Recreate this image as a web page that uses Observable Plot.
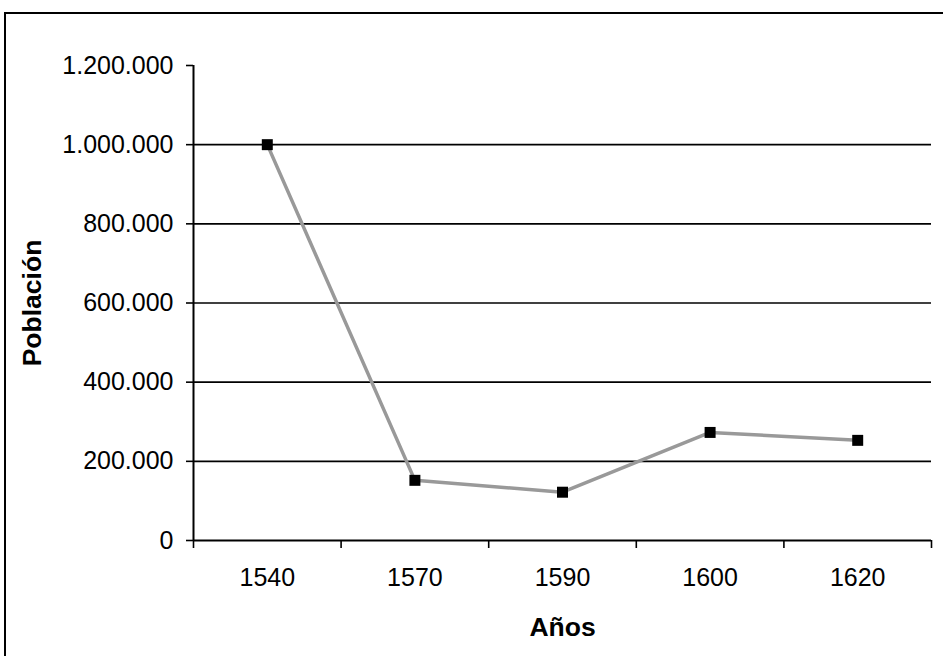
<!DOCTYPE html>
<html>
<head>
<meta charset="utf-8">
<script src="https://cdn.jsdelivr.net/npm/d3@7"></script>
<script src="https://cdn.jsdelivr.net/npm/@observablehq/plot@0.6"></script>
<style>
  html, body { margin: 0; padding: 0; background: #fff; overflow: hidden; }
  #wrap { position: relative; width: 943px; height: 656px; overflow: hidden; }
  #frame { position: absolute; left: 4px; top: 12px; width: 1000px; height: 700px; border: 2.5px solid #000; pointer-events: none; }
  #chart { position: absolute; left: 0; top: 0; }
</style>
</head>
<body>
<div id="wrap"><div id="chart"></div><div id="frame"></div></div>
<script>
const years = ["1540", "1570", "1590", "1600", "1620"];
const population = [1000000, 152000, 122000, 273000, 253000];
const yTicks = [0, 200000, 400000, 600000, 800000, 1000000, 1200000];
const gridValues = [200000, 400000, 600000, 800000, 1000000];

const data = years.map((y, i) => ({i: i + 0.5, year: y, value: population[i]}));
const fmt = d => d3.format(",")(d).replace(/,/g, ".");
const font = "'Liberation Sans', Arial, sans-serif";

const chart = Plot.plot({
  width: 943,
  height: 656,
  marginLeft: 193,
  marginRight: 12,
  marginTop: 65,
  marginBottom: 116,
  style: {fontFamily: font, fontSize: "25px", background: "transparent", color: "#000"},
  x: {type: "linear", domain: [0, years.length]},
  y: {domain: [0, 1200000]},
  marks: [
    Plot.ruleY(gridValues, {stroke: "#000", strokeWidth: 1.6}),
    Plot.axisY({ticks: yTicks, tickFormat: fmt, tickSize: 7, tickPadding: 13, label: null, stroke: "#000", strokeWidth: 1.6, strokeOpacity: 1}),
    Plot.axisX({ticks: d3.range(0, years.length + 1), tickFormat: () => "", tickSize: 8, label: null, strokeWidth: 1.6, strokeOpacity: 1}),
    Plot.axisX({ticks: data.map(d => d.i), tickFormat: v => years[Math.floor(v)], tickSize: 0, tickPadding: 28, label: null}),
    Plot.ruleX([0], {stroke: "#000", strokeWidth: 2}),
    Plot.ruleY([0], {stroke: "#000", strokeWidth: 2}),
    Plot.line(data, {x: "i", y: "value", stroke: "#999999", strokeWidth: 3.5}),
    Plot.dot(data, {x: "i", y: "value", symbol: "square", r: 6.2, fill: "#000", stroke: null}),
    Plot.text(["Años"], {frameAnchor: "bottom", dy: 87, lineAnchor: "middle", textAnchor: "middle", fontWeight: "bold", fontSize: 26.5}),
    Plot.text(["Población"], {frameAnchor: "left", dx: -161, rotate: -90, lineAnchor: "middle", textAnchor: "middle", fontWeight: "bold", fontSize: 26.5})
  ]
});
document.getElementById("chart").appendChild(chart);
</script>
</body>
</html>
